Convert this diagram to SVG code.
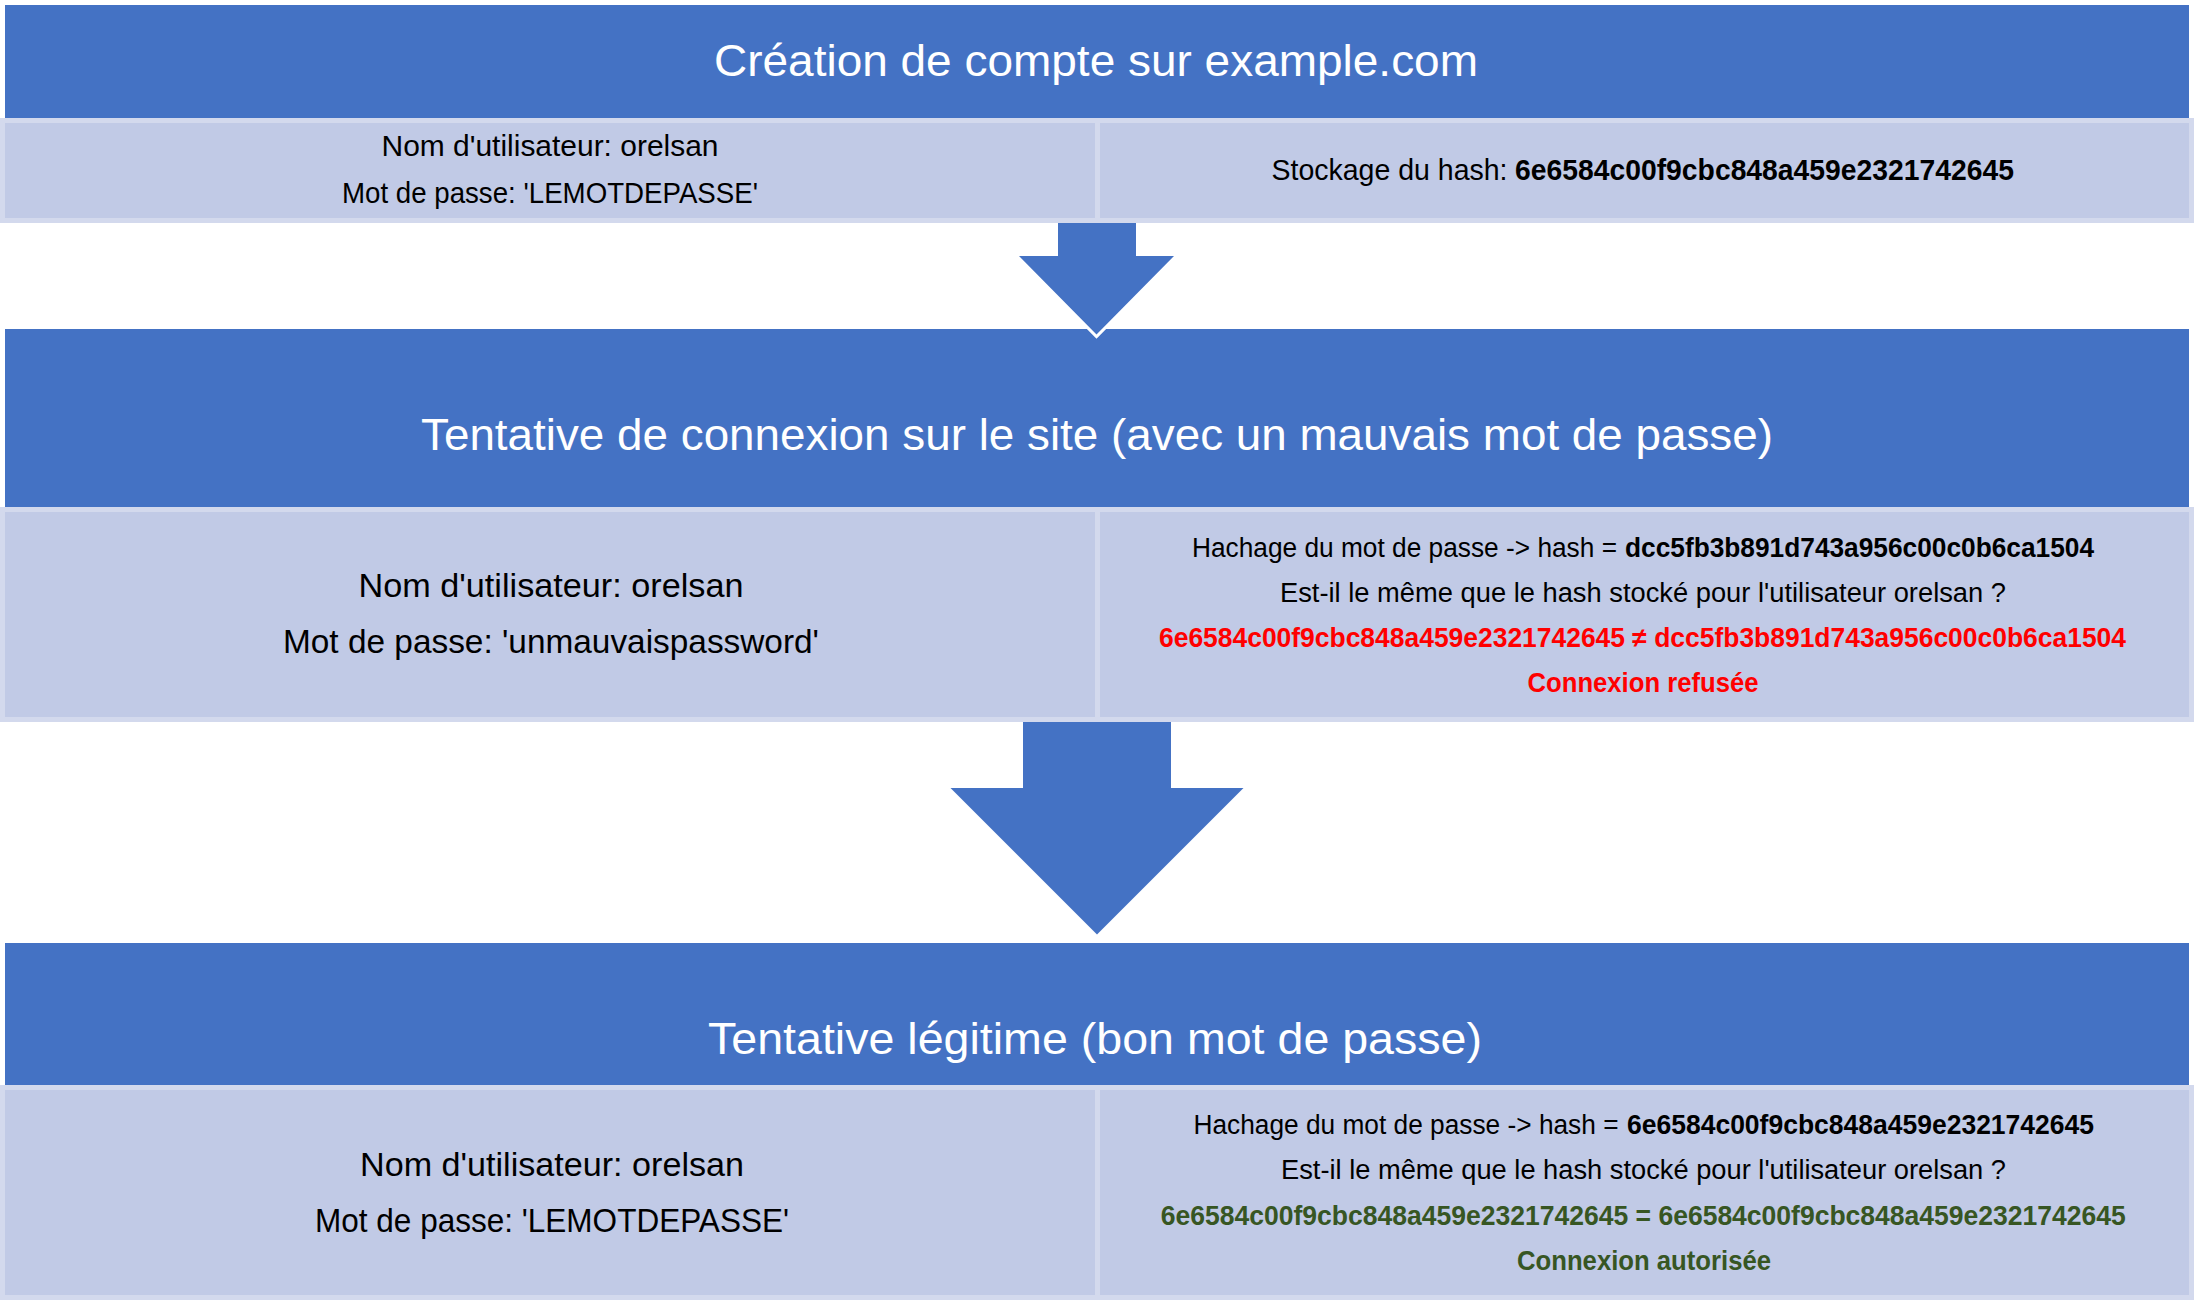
<svg xmlns="http://www.w3.org/2000/svg" width="2194" height="1302" viewBox="0 0 2194 1302">
  <style>
    text { font-family: "Liberation Sans", Arial, sans-serif; }
    .hdr { fill: #4472C4; }
    .band { fill: #D3D9ED; }
    .cell { fill: #C1CAE6; }
    .title { fill: #FFFFFF; font-size: 44px; text-anchor: middle; }
    .t1 { fill: #000000; font-size: 29px; }
    .t2 { fill: #000000; font-size: 33px; }
    .t3 { fill: #000000; font-size: 27px; }
    .c { text-anchor: middle; }
    .b { font-weight: bold; }
    .red { fill: #FF0000; font-weight: bold; }
    .green { fill: #375623; font-weight: bold; }
    .arrow { fill: #4472C4; stroke: #FFFFFF; stroke-width: 6; stroke-linejoin: miter; paint-order: stroke; }
  </style>

  <g id="etape-connexion-refusee">
    <rect class="hdr" x="5" y="329" width="2184" height="178"/>
    <text class="title" x="1097" y="449.5" textLength="1352" lengthAdjust="spacingAndGlyphs">Tentative de connexion sur le site (avec un mauvais mot de passe)</text>
    <rect class="band" x="0" y="507" width="2194" height="215"/>
    <rect class="cell" x="5" y="512" width="1090" height="205"/>
    <rect class="cell" x="1100" y="512" width="1089" height="205"/>
    <text class="t2 c" x="551" y="596.5" textLength="385" lengthAdjust="spacingAndGlyphs">Nom d'utilisateur: orelsan</text>
    <text class="t2 c" x="551" y="653" textLength="536" lengthAdjust="spacingAndGlyphs">Mot de passe: 'unmauvaispassword'</text>
    <text class="t3" y="556.5"><tspan x="1192" textLength="425" lengthAdjust="spacingAndGlyphs">Hachage du mot de passe -&gt; hash =</tspan> <tspan class="b" x="1625" textLength="469" lengthAdjust="spacingAndGlyphs">dcc5fb3b891d743a956c00c0b6ca1504</tspan></text>
    <text class="t3 c" x="1643" y="601.5" textLength="726" lengthAdjust="spacingAndGlyphs">Est-il le même que le hash stocké pour l'utilisateur orelsan ?</text>
    <text class="t3 c red" x="1642.5" y="646.5" textLength="967" lengthAdjust="spacingAndGlyphs">6e6584c00f9cbc848a459e2321742645 ≠ dcc5fb3b891d743a956c00c0b6ca1504</text>
    <text class="t3 c red" x="1643" y="691.5" textLength="231" lengthAdjust="spacingAndGlyphs">Connexion refusée</text>
  </g>

  <g id="connecteurs">
    <path class="arrow" d="M1058,223 V256 H1019 L1096.5,334.5 L1174,256 H1136 V223"/>
    <path class="arrow" d="M1023,722 V788 H950.5 L1097,934.5 L1243.5,788 H1171 V722"/>
  </g>

  <g id="etape-creation-compte">
    <rect class="hdr" x="5" y="5" width="2184" height="113"/>
    <text class="title" x="1096" y="76" textLength="764" lengthAdjust="spacingAndGlyphs">Création de compte sur example.com</text>
    <rect class="band" x="0" y="118" width="2194" height="105"/>
    <rect class="cell" x="5" y="123" width="1090" height="95"/>
    <rect class="cell" x="1100" y="123" width="1089" height="95"/>
    <text class="t1 c" x="550" y="155.5" textLength="337" lengthAdjust="spacingAndGlyphs">Nom d'utilisateur: orelsan</text>
    <text class="t1 c" x="550" y="203" textLength="416" lengthAdjust="spacingAndGlyphs">Mot de passe: 'LEMOTDEPASSE'</text>
    <text class="t1" y="179.5"><tspan x="1271.5" textLength="236" lengthAdjust="spacingAndGlyphs">Stockage du hash:</tspan> <tspan class="b" x="1515" textLength="499" lengthAdjust="spacingAndGlyphs">6e6584c00f9cbc848a459e2321742645</tspan></text>
  </g>

  <g id="etape-connexion-autorisee">
    <rect class="hdr" x="5" y="943" width="2184" height="142"/>
    <text class="title" x="1095" y="1054" textLength="774" lengthAdjust="spacingAndGlyphs">Tentative légitime (bon mot de passe)</text>
    <rect class="band" x="0" y="1085" width="2194" height="215"/>
    <rect class="cell" x="5" y="1090" width="1090" height="205"/>
    <rect class="cell" x="1100" y="1090" width="1089" height="205"/>
    <text class="t2 c" x="552" y="1175.5" textLength="384" lengthAdjust="spacingAndGlyphs">Nom d'utilisateur: orelsan</text>
    <text class="t2 c" x="552" y="1232" textLength="474" lengthAdjust="spacingAndGlyphs">Mot de passe: 'LEMOTDEPASSE'</text>
    <text class="t3" y="1133.5"><tspan x="1193.5" textLength="425" lengthAdjust="spacingAndGlyphs">Hachage du mot de passe -&gt; hash =</tspan> <tspan class="b" x="1627" textLength="467" lengthAdjust="spacingAndGlyphs">6e6584c00f9cbc848a459e2321742645</tspan></text>
    <text class="t3 c" x="1643.5" y="1178.5" textLength="725" lengthAdjust="spacingAndGlyphs">Est-il le même que le hash stocké pour l'utilisateur orelsan ?</text>
    <text class="t3 c green" x="1643.3" y="1224.5" textLength="965" lengthAdjust="spacingAndGlyphs">6e6584c00f9cbc848a459e2321742645 = 6e6584c00f9cbc848a459e2321742645</text>
    <text class="t3 c green" x="1644" y="1269.5" textLength="254" lengthAdjust="spacingAndGlyphs">Connexion autorisée</text>
  </g>
</svg>
